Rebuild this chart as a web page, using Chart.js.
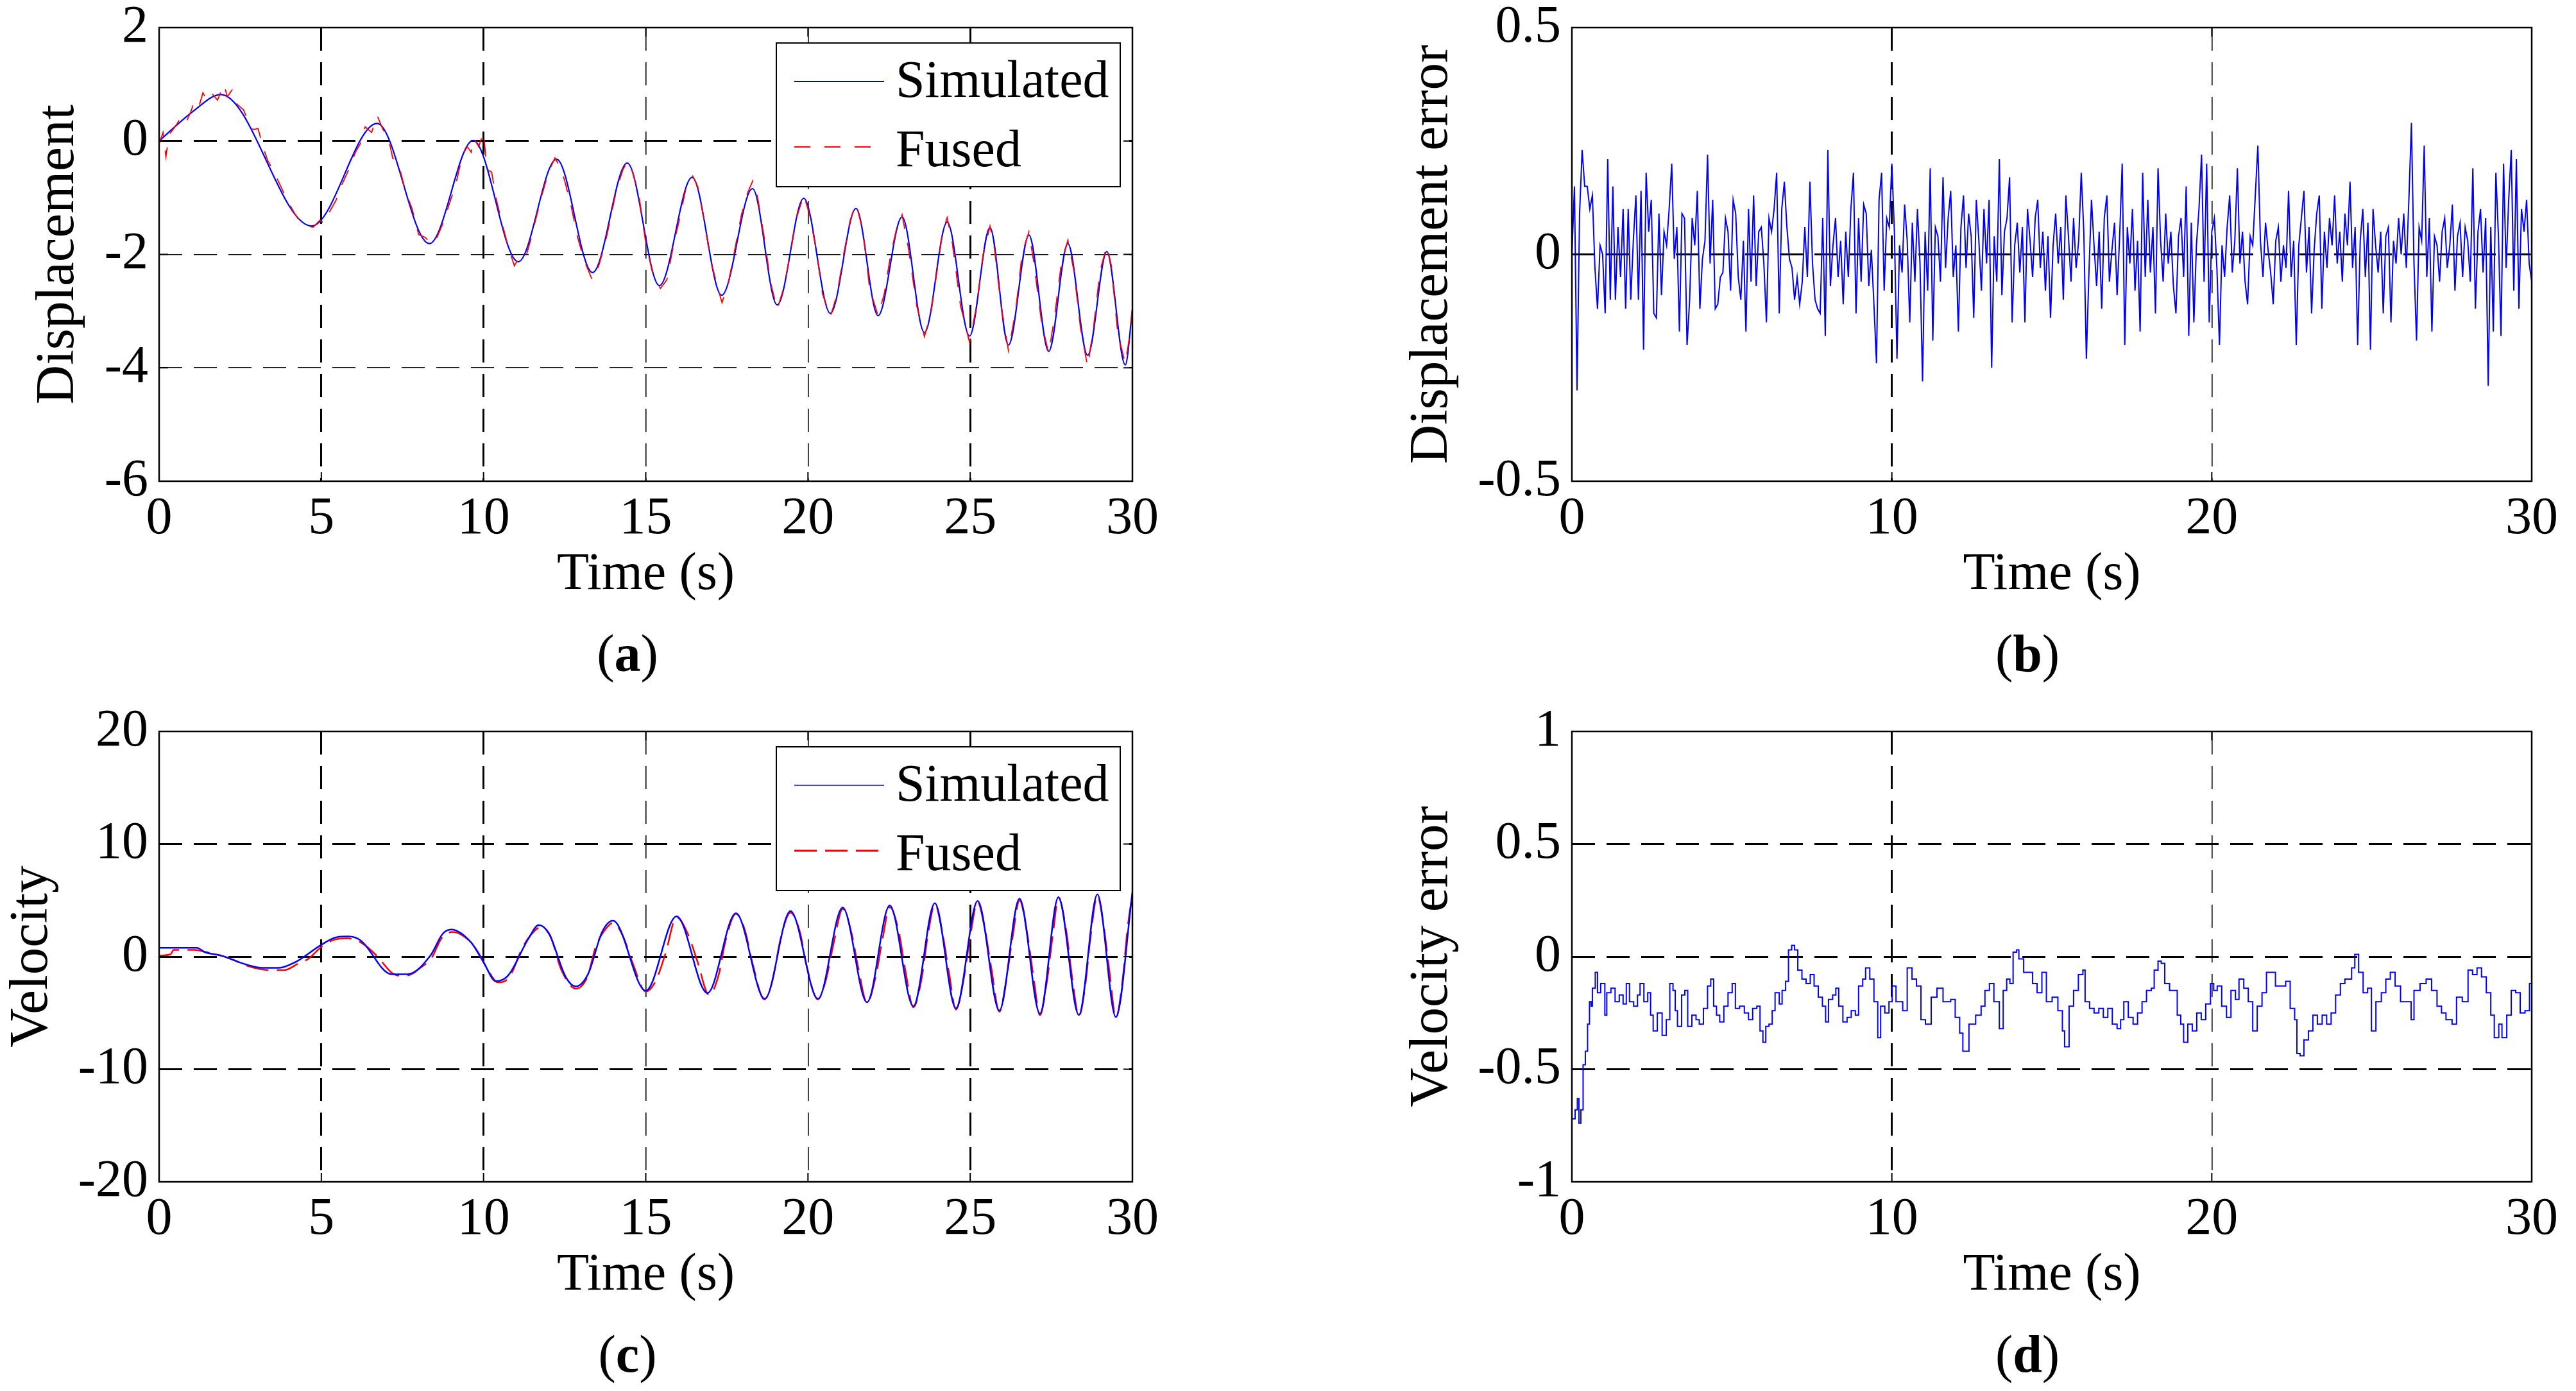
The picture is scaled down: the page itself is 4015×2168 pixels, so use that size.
<!DOCTYPE html>
<html>
<head>
<meta charset="utf-8">
<title>Simulated vs fused displacement and velocity</title>
<script src="https://cdn.jsdelivr.net/npm/chart.js@4.4.1/dist/chart.umd.min.js"></script>
<style>
  html, body { margin: 0; padding: 0; background: #fff; }
  body { width: 4015px; height: 2168px; position: relative; overflow: hidden;
         font-family: 'Liberation Serif', 'Times New Roman', serif; color: #000; }
  .panel { position: absolute; }
  .tag { position: absolute; width: 400px; text-align: center; font-size: 82px; line-height: 100px; }
</style>
</head>
<body>
<div class="panel" id="boxA"><canvas id="chartA"></canvas></div>
<div class="panel" id="boxB"><canvas id="chartB"></canvas></div>
<div class="panel" id="boxC"><canvas id="chartC"></canvas></div>
<div class="panel" id="boxD"><canvas id="chartD"></canvas></div>
<div class="tag" style="left:778px;top:969px">(<b>a</b>)</div>
<div class="tag" style="left:2960px;top:969px">(<b>b</b>)</div>
<div class="tag" style="left:778px;top:2061px">(<b>c</b>)</div>
<div class="tag" style="left:2960px;top:2061px">(<b>d</b>)</div>
<script>
// ---- tick values ----
const timeTicksFine = [0, 5, 10, 15, 20, 25, 30];
const timeTicksCoarse = [0, 10, 20, 30];
const dispTicks = [-6, -4, -2, 0, 2];
const dispErrTicks = [-0.5, 0, 0.5];
const velTicks = [-20, -10, 0, 10, 20];
const velErrTicks = [-1, -0.5, 0, 0.5, 1];

// ---- (a) displacement, [time, value] ----
const dispSim = [
  [0, 0], [1.04, 0.52], [1.9, 0.82], [4.7, -1.5], [6.72, 0.31], [8.33, -1.81], [9.68, 0.01],
  [11.07, -2.13], [12.25, -0.32], [13.36, -2.32], [14.43, -0.39], [15.42, -2.55], [16.43, -0.64],
  [17.34, -2.72], [18.29, -0.84], [19.05, -2.89], [19.87, -1.01], [20.69, -3.04], [21.48, -1.19],
  [22.16, -3.08], [22.9, -1.34], [23.59, -3.38], [24.29, -1.43], [24.98, -3.44], [25.61, -1.53],
  [26.18, -3.6], [26.81, -1.66], [27.42, -3.71], [28.01, -1.81], [28.62, -3.78], [29.21, -1.95],
  [29.78, -3.95], [30, -2.98]
];
const dispFused = [
  [0, -0.05], [0.12, 0.15], [0.21, -0.28], [0.3, 0.1], [0.55, 0.3], [0.7, 0.45], [0.85, 0.35], [1.0, 0.55],
  [1.1, 0.75], [1.25, 0.65], [1.35, 0.85], [1.5, 0.7], [1.65, 0.82], [1.8, 0.72], [2.0, 1.0], [2.1, 0.78],
  [2.25, 0.9], [2.4, 0.65], [2.6, 0.55], [2.75, 0.35], [2.9, 0.2], [3.05, 0.22], [3.2, -0.1], [3.35, -0.35],
  [3.5, -0.5], [3.75, -0.8], [3.95, -1.05], [4.2, -1.3], [4.35, -1.42], [4.55, -1.5], [4.75, -1.52],
  [4.95, -1.4], [5.1, -1.45], [5.25, -1.25], [5.45, -1.05], [5.65, -0.75], [5.85, -0.5], [6.05, -0.2],
  [6.2, -0.05], [6.35, 0.25], [6.55, 0.15], [6.72, 0.45], [6.9, 0.2], [7.05, 0.1], [7.2, -0.3], [7.4, -0.45],
  [7.6, -0.9], [7.8, -1.2], [8.0, -1.65], [8.2, -1.7], [8.4, -1.82], [8.55, -1.72], [8.75, -1.45], [8.95, -1.1],
  [9.15, -0.75], [9.35, -0.25], [9.5, -0.1], [9.62, -0.2], [9.7, 0.05], [9.85, -0.1], [10.0, 0.15],
  [10.1, -0.5], [10.25, -0.55], [10.4, -1.05], [10.55, -1.4], [10.75, -1.85], [10.95, -2.2], [11.1, -2.05],
  [11.3, -2.05], [11.45, -1.75], [11.6, -1.4], [11.8, -0.95], [12.0, -0.55], [12.2, -0.3], [12.35, -0.45],
  [12.5, -0.7], [12.7, -1.15], [12.9, -1.7], [13.1, -2.1], [13.35, -2.45], [13.55, -2.2], [13.75, -1.8],
  [13.9, -1.4], [14.1, -0.85], [14.3, -0.5], [14.45, -0.35], [14.6, -0.55], [14.8, -1.0], [15.0, -1.8],
  [15.2, -2.3], [15.45, -2.6], [15.65, -2.45], [15.85, -1.85], [16.05, -1.35], [16.25, -0.8], [16.45, -0.62],
  [16.6, -0.8], [16.8, -1.4], [17.0, -2.1], [17.2, -2.55], [17.35, -2.85], [17.55, -2.5], [17.75, -1.9],
  [17.95, -1.3], [18.15, -0.9], [18.3, -0.7], [18.45, -1.0], [18.65, -1.7], [18.85, -2.5], [19.05, -2.97],
  [19.25, -2.6], [19.45, -2.0], [19.65, -1.35], [19.87, -0.95], [20.05, -1.3], [20.25, -1.9], [20.45, -2.7],
  [20.69, -3.1], [20.9, -2.7], [21.1, -2.0], [21.3, -1.4], [21.48, -1.1], [21.7, -1.6], [21.9, -2.6],
  [22.16, -3.08], [22.35, -2.7], [22.55, -2.0], [22.75, -1.5], [22.9, -1.3], [23.1, -1.9], [23.35, -2.9],
  [23.59, -3.45], [23.8, -3.0], [24.0, -2.2], [24.15, -1.6], [24.29, -1.35], [24.45, -1.8], [24.7, -2.9],
  [24.98, -3.55], [25.2, -2.9], [25.4, -2.0], [25.61, -1.5], [25.75, -1.9], [25.95, -2.9], [26.18, -3.7],
  [26.4, -3.0], [26.6, -2.0], [26.81, -1.6], [26.95, -2.1], [27.2, -3.2], [27.42, -3.75], [27.6, -3.1],
  [27.8, -2.2], [28.01, -1.75], [28.2, -2.3], [28.4, -3.3], [28.62, -3.98], [28.8, -3.3], [29.0, -2.3],
  [29.21, -1.85], [29.35, -2.2], [29.55, -3.4], [29.78, -3.92], [29.9, -3.5], [30, -2.95]
];

// ---- (b) displacement error, one value every 0.08 s from 0 to 30 s ----
const DISP_ERR_STEP = 0.08;
const dispErr = [
  0.00, 0.15, -0.30, 0.09, 0.23, 0.15, 0.15, 0.10, 0.13, -0.03, -0.12, 0.02, 0.00, -0.13, 0.21, -0.10, 0.15, -0.10, 0.06, -0.05, 0.10, -0.12, 0.10, -0.10, 0.03,
  0.13, -0.10, 0.14, -0.21, 0.18, 0.05, 0.12, -0.13, -0.14, 0.09, -0.09, 0.05, 0.02, 0.10, 0.20, -0.01, 0.06, -0.17, 0.09, 0.08, -0.20, -0.10, 0.08, 0.02, 0.14,
  -0.12, -0.01, 0.03, 0.22, -0.02, 0.12, -0.12, -0.11, -0.05, -0.04, 0.08, 0.05, -0.08, 0.12, 0.09, -0.05, -0.10, 0.03, -0.17, 0.10, -0.06, 0.13, -0.07, 0.05, 0.06,
  -0.02, -0.15, 0.08, 0.05, 0.10, 0.18, -0.13, 0.10, 0.16, 0.06, -0.01, -0.03, -0.10, -0.05, -0.11, -0.06, 0.06, -0.05, 0.16, -0.02, -0.10, -0.12, -0.13, 0.08, -0.18,
  0.23, -0.07, 0.02, 0.08, -0.05, 0.03, -0.11, 0.05, -0.05, 0.10, 0.18, -0.13, 0.08, -0.06, 0.11, 0.09, -0.07, 0.01, -0.11, -0.24, 0.12, 0.18, -0.08, 0.08, 0.06,
  0.20, 0.05, -0.23, 0.02, -0.04, 0.11, 0.03, -0.15, 0.07, -0.06, 0.10, -0.02, -0.28, 0.05, -0.08, 0.19, -0.19, 0.06, 0.04, -0.06, 0.17, -0.03, 0.08, 0.14, -0.05,
  0.02, -0.17, 0.06, 0.13, -0.03, 0.09, 0.04, -0.14, 0.12, 0.03, -0.08, 0.10, -0.02, 0.12, -0.25, 0.04, -0.06, 0.21, -0.09, 0.05, 0.08, 0.17, -0.15, 0.02, 0.07,
  -0.04, 0.06, -0.15, 0.10, 0.03, -0.05, 0.08, 0.12, -0.03, 0.05, -0.08, 0.04, -0.14, 0.02, 0.09, -0.02, 0.06, -0.10, 0.13, 0.04, -0.06, 0.08, -0.03, 0.03, 0.18,
  0.05, -0.23, -0.04, 0.12, 0.02, -0.07, 0.05, -0.12, 0.08, 0.13, -0.06, 0.01, 0.07, -0.09, 0.04, 0.20, -0.20, 0.06, -0.02, 0.10, -0.08, 0.03, -0.17, 0.18, -0.05,
  0.12, -0.04, 0.06, -0.13, 0.19, 0.03, -0.06, 0.09, -0.02, 0.05, -0.07, -0.13, 0.04, 0.08, -0.05, 0.15, -0.18, 0.07, -0.15, 0.02, 0.10, 0.22, -0.06, 0.20, -0.15,
  0.05, 0.08, -0.03, -0.20, 0.02, -0.05, 0.06, 0.13, -0.04, 0.03, 0.19, -0.02, 0.05, -0.06, -0.11, 0.04, 0.02, 0.13, 0.24, 0.03, -0.05, 0.07, 0.01, -0.04, -0.11,
  0.03, 0.06, -0.06, 0.02, -0.03, 0.14, -0.05, 0.03, -0.20, 0.02, 0.08, 0.14, -0.04, 0.06, -0.13, 0.01, 0.09, 0.13, -0.12, 0.05, -0.03, 0.08, 0.02, 0.13, -0.02,
  0.05, -0.06, 0.09, 0.02, 0.16, -0.03, 0.06, -0.20, 0.03, 0.10, -0.05, 0.07, -0.21, 0.10, 0.02, -0.04, 0.05, -0.13, 0.04, 0.06, -0.15, 0.03, -0.02, 0.08, 0.00,
  0.09, -0.03, 0.12, 0.29, -0.02, -0.19, 0.06, 0.03, 0.24, -0.05, 0.08, -0.17, 0.04, 0.02, -0.06, 0.05, 0.08, -0.03, 0.02, 0.11, -0.08, 0.04, 0.07, -0.05, 0.06,
  0.03, -0.06, 0.19, -0.12, 0.05, 0.10, -0.04, 0.08, -0.29, 0.06, -0.17, 0.18, 0.04, -0.18, 0.20, -0.03, 0.12, 0.23, -0.08, 0.21, -0.12, 0.10, 0.05, 0.12, -0.02,
  -0.06
];

// ---- (c) velocity ----
const velSim = [
  [0, 0.78], [1.16, 0.78], [1.41, 0.4], [1.92, 0.08], [2.68, -0.7], [3.18, -1.0], [3.69, -1.0], [4.19, -0.5],
  [5.0, 1.05], [5.45, 1.71], [5.83, 1.79], [6.21, 1.44], [7.16, -1.56], [7.66, -1.56], [8.36, 0.08], [8.74, 2.02],
  [9.0, 2.41], [9.62, 1.25], [10.0, -0.5], [10.38, -2.18], [10.76, -1.67], [11.39, 1.63], [11.7, 2.8], [12.02, 2.02],
  [12.53, -1.79], [12.84, -2.65], [13.22, -1.56], [13.66, 2.22], [13.99, 3.19], [15.0, -3.03], [15.95, 3.58],
  [16.9, -3.23], [17.78, 3.85], [18.67, -3.74], [19.46, 4.05], [20.31, -3.74], [21.07, 4.36], [21.82, -4.05],
  [22.52, 4.55], [23.25, -4.4], [23.91, 4.75], [24.56, -4.59], [25.23, 4.94], [25.9, -4.79], [26.52, 5.14],
  [27.15, -5.06], [27.72, 5.29], [28.35, -5.18], [28.92, 5.53], [29.49, -5.37], [30, 5.7]
];
const velFused = [
  [0, 0.1], [0.35, 0.2], [0.45, 0.6], [1.1, 0.6], [1.3, 0.5], [1.6, 0.3], [1.9, 0.1], [2.3, -0.3], [2.7, -0.8],
  [3.1, -1.1], [3.4, -1.2], [3.85, -1.2], [4.3, -0.6], [4.6, -0.2], [5.0, 0.85], [5.4, 1.5], [5.8, 1.62],
  [6.25, 1.2], [6.7, 0.1], [7.2, -1.5], [7.45, -1.7], [7.75, -1.6], [8.0, -1.1], [8.4, -0.1], [8.7, 1.6],
  [9.05, 2.2], [9.6, 1.3], [9.85, 0.3], [10.1, -1.0], [10.45, -2.3], [10.8, -1.8], [11.2, 0.8], [11.45, 1.9],
  [11.75, 2.6], [12.05, 1.9], [12.4, -1.2], [12.85, -2.85], [13.2, -1.8], [13.45, 0.8], [13.7, 2.2], [14.0, 3.0],
  [14.3, 1.8], [14.6, -0.6], [15.0, -3.1], [15.3, -2.2], [15.6, 0.2], [15.95, 3.5], [16.3, 2.0], [16.6, -0.5],
  [16.95, -3.4], [17.25, -1.6], [17.45, 1.3], [17.78, 3.8], [18.05, 2.4], [18.3, -0.7], [18.65, -3.8],
  [18.9, -2.2], [19.15, 1.5], [19.46, 3.9], [19.75, 2.2], [19.95, -0.7], [20.3, -3.8], [20.55, -2.1], [20.8, 1.3],
  [21.07, 4.25], [21.35, 2.0], [21.55, -1.0], [21.82, -4.1], [22.1, -1.6], [22.3, 1.6], [22.52, 4.4], [22.8, 2.2],
  [23.0, -1.2], [23.25, -4.5], [23.5, -2.0], [23.7, 2.0], [23.91, 4.65], [24.15, 2.0], [24.35, -1.5],
  [24.56, -4.7], [24.8, -2.0], [25.0, 1.8], [25.23, 4.85], [25.45, 2.5], [25.65, -1.0], [25.9, -4.9],
  [26.1, -2.3], [26.3, 1.6], [26.52, 5.0], [26.75, 2.2], [26.95, -1.8], [27.15, -5.2], [27.35, -2.5],
  [27.55, 2.0], [27.72, 5.2], [27.95, 2.5], [28.15, -2.0], [28.35, -5.3], [28.55, -2.5], [28.7, 1.5],
  [28.92, 5.4], [29.1, 3.0], [29.3, -1.5], [29.49, -5.45], [29.7, -2.0], [29.85, 2.5], [30, 5.6]
];

// ---- (d) velocity error ----
const velErr = [
  [0, -0.72], [0.1, -0.68], [0.17, -0.63], [0.22, -0.74], [0.28, -0.68], [0.35, -0.48], [0.42, -0.42], [0.49, -0.30],
  [0.55, -0.20], [0.6, -0.22], [0.64, -0.14], [0.73, -0.07], [0.8, -0.16], [0.9, -0.12], [1.03, -0.26], [1.09, -0.16],
  [1.22, -0.14], [1.35, -0.20], [1.48, -0.17], [1.6, -0.21], [1.7, -0.12], [1.8, -0.20], [1.93, -0.22], [2.05, -0.17],
  [2.13, -0.12], [2.25, -0.20], [2.37, -0.16], [2.46, -0.26], [2.54, -0.33], [2.67, -0.25], [2.82, -0.35], [2.95, -0.28],
  [3.06, -0.12], [3.16, -0.15], [3.23, -0.24], [3.3, -0.31], [3.43, -0.17], [3.53, -0.15], [3.62, -0.31], [3.75, -0.26],
  [3.88, -0.28], [3.98, -0.30], [4.11, -0.23], [4.24, -0.13], [4.34, -0.10], [4.43, -0.22], [4.52, -0.26], [4.62, -0.29],
  [4.75, -0.22], [4.88, -0.16], [5.01, -0.12], [5.11, -0.23], [5.24, -0.22], [5.39, -0.25], [5.52, -0.28], [5.65, -0.23],
  [5.78, -0.22], [5.88, -0.33], [5.97, -0.38], [6.06, -0.31], [6.16, -0.30], [6.26, -0.24], [6.35, -0.16], [6.48, -0.21],
  [6.57, -0.15], [6.68, -0.11], [6.77, 0.03], [6.87, 0.05], [6.96, 0.03], [7.06, -0.06], [7.19, -0.10], [7.32, -0.12],
  [7.45, -0.08], [7.57, -0.13], [7.7, -0.18], [7.83, -0.22], [7.93, -0.29], [8.02, -0.19], [8.15, -0.17], [8.25, -0.14],
  [8.34, -0.22], [8.47, -0.29], [8.6, -0.27], [8.73, -0.24], [8.86, -0.26], [8.96, -0.13], [9.09, -0.10], [9.18, -0.05],
  [9.31, -0.10], [9.44, -0.20], [9.56, -0.36], [9.65, -0.22], [9.78, -0.25], [9.91, -0.20], [10.01, -0.13],
  [10.13, -0.20], [10.34, -0.24], [10.48, -0.05], [10.63, -0.10], [10.77, -0.13], [10.91, -0.28], [11.05, -0.30],
  [11.23, -0.18], [11.41, -0.14], [11.6, -0.20], [11.84, -0.19], [11.98, -0.27], [12.12, -0.34], [12.22, -0.42],
  [12.41, -0.30], [12.62, -0.26], [12.79, -0.22], [12.91, -0.15], [13.05, -0.12], [13.19, -0.20], [13.36, -0.32],
  [13.48, -0.15], [13.59, -0.10], [13.69, -0.12], [13.79, 0.02], [13.9, 0.03], [13.97, -0.01], [14.12, -0.07],
  [14.26, -0.07], [14.4, -0.12], [14.54, -0.16], [14.69, -0.07], [14.83, -0.20], [15.01, -0.18], [15.19, -0.24],
  [15.33, -0.33], [15.4, -0.40], [15.54, -0.22], [15.68, -0.15], [15.83, -0.08], [15.97, -0.06], [16.04, -0.20],
  [16.18, -0.23], [16.32, -0.25], [16.47, -0.23], [16.61, -0.27], [16.75, -0.23], [16.89, -0.30], [17.04, -0.32],
  [17.15, -0.28], [17.25, -0.20], [17.39, -0.27], [17.54, -0.30], [17.68, -0.25], [17.82, -0.20], [17.96, -0.15],
  [18.11, -0.14], [18.2, -0.06], [18.32, -0.02], [18.42, -0.03], [18.53, -0.12], [18.68, -0.15], [18.86, -0.15],
  [18.92, -0.26], [19.03, -0.30], [19.12, -0.38], [19.25, -0.30], [19.39, -0.33], [19.53, -0.25], [19.67, -0.28],
  [19.81, -0.21], [19.96, -0.12], [20.06, -0.15], [20.17, -0.13], [20.31, -0.22], [20.46, -0.27], [20.6, -0.15],
  [20.74, -0.19], [20.85, -0.10], [21.0, -0.14], [21.14, -0.20], [21.28, -0.33], [21.42, -0.22], [21.57, -0.16],
  [21.71, -0.07], [21.85, -0.07], [21.99, -0.13], [22.14, -0.13], [22.31, -0.11], [22.45, -0.23], [22.59, -0.28],
  [22.66, -0.43], [22.76, -0.44], [22.88, -0.37], [23.02, -0.33], [23.16, -0.26], [23.3, -0.30], [23.45, -0.26],
  [23.59, -0.30], [23.73, -0.25], [23.87, -0.17], [24.02, -0.12], [24.16, -0.10], [24.3, -0.10], [24.37, -0.05],
  [24.47, 0.01], [24.59, -0.07], [24.73, -0.16], [24.87, -0.14], [24.99, -0.33], [25.13, -0.20], [25.3, -0.16],
  [25.44, -0.10], [25.58, -0.07], [25.73, -0.13], [25.9, -0.20], [26.08, -0.20], [26.23, -0.28], [26.32, -0.15],
  [26.51, -0.12], [26.7, -0.10], [26.87, -0.15], [27.04, -0.22], [27.18, -0.25], [27.32, -0.28], [27.51, -0.30],
  [27.65, -0.18], [27.83, -0.20], [28.01, -0.06], [28.15, -0.08], [28.29, -0.05], [28.43, -0.09], [28.58, -0.16],
  [28.72, -0.26], [28.83, -0.36], [28.97, -0.30], [29.07, -0.36], [29.22, -0.26], [29.36, -0.15], [29.5, -0.16],
  [29.64, -0.25], [29.79, -0.24], [29.93, -0.12], [30, -0.15]
];

// ---- layout of the four plot boxes (page pixels) ----
const PAD_TOP = 60, PAD_RIGHT = 80, X_AXIS_H = 200;
const BLUE = '#0000ff', RED = '#ff0000';
const FONT = "'Liberation Serif', 'Times New Roman', serif";

Chart.defaults.font.family = FONT;
Chart.defaults.color = '#000';

function toPoints(pairs) {
  return pairs.map(p => ({ x: p[0], y: p[1] }));
}

function placePanel(id, plot, yAxisW) {
  const el = document.getElementById(id);
  el.style.left = (plot.left - yAxisW) + 'px';
  el.style.top = (plot.top - PAD_TOP) + 'px';
  el.style.width = (plot.right - plot.left + yAxisW + PAD_RIGHT) + 'px';
  el.style.height = (plot.bottom - plot.top + PAD_TOP + X_AXIS_H) + 'px';
}

function gridOpts(tickVals, thick) {
  const lo = tickVals[0], hi = tickVals[tickVals.length - 1];
  return {
    drawTicks: false,
    color: c => (c.tick && (c.tick.value === lo || c.tick.value === hi)) ? 'rgba(0,0,0,0)' : '#000',
    lineWidth: c => (c.tick && thick.includes(c.tick.value)) ? 3 : 1.6
  };
}

function xAxis(tickVals, thick) {
  return {
    type: 'linear', min: 0, max: 30,
    afterBuildTicks: s => { s.ticks = tickVals.map(v => ({ value: v })); },
    afterFit: s => { s.height = X_AXIS_H; s.paddingLeft = 0; s.paddingRight = 0; },
    grid: gridOpts(tickVals, thick),
    border: { display: false, dash: [36, 18] },
    ticks: { autoSkip: false, maxRotation: 0, padding: 10, color: '#000', font: { size: 82 }, callback: v => String(v) },
    title: { display: true, text: 'Time (s)', color: '#000', font: { size: 82 }, padding: { top: 0, bottom: 4 } }
  };
}

function yAxis(tickVals, thick, label, axisW, titlePad) {
  return {
    type: 'linear', min: tickVals[0], max: tickVals[tickVals.length - 1],
    afterBuildTicks: s => { s.ticks = tickVals.map(v => ({ value: v })); },
    afterFit: s => { s.width = axisW; s.paddingTop = 0; s.paddingBottom = 0; },
    grid: gridOpts(tickVals, thick),
    border: { display: false, dash: [36, 18] },
    ticks: { autoSkip: false, padding: 17, color: '#000', font: { size: 82 }, callback: v => String(v) },
    title: { display: true, text: label, color: '#000', font: { size: 85 }, padding: { top: titlePad, bottom: 0 } }
  };
}

// solid box round the plot area with small inward ticks, like the original
const framePlugin = {
  id: 'frame',
  afterDatasetsDraw(chart) {
    const { ctx, chartArea: a, scales } = chart;
    const TICK = 14;
    ctx.save();
    ctx.setLineDash([]);
    ctx.strokeStyle = '#000';
    ctx.lineWidth = 2;
    ctx.beginPath();
    scales.x.ticks.forEach(t => {
      const px = scales.x.getPixelForValue(t.value);
      ctx.moveTo(px, a.bottom); ctx.lineTo(px, a.bottom - TICK);
      ctx.moveTo(px, a.top); ctx.lineTo(px, a.top + TICK);
    });
    scales.y.ticks.forEach(t => {
      const py = scales.y.getPixelForValue(t.value);
      ctx.moveTo(a.left, py); ctx.lineTo(a.left + TICK, py);
      ctx.moveTo(a.right, py); ctx.lineTo(a.right - TICK, py);
    });
    ctx.stroke();
    ctx.lineWidth = 2.5;
    ctx.strokeRect(a.left, a.top, a.right - a.left, a.bottom - a.top);
    ctx.restore();
  }
};

// boxed legend in the upper right corner of the plot
const boxLegendPlugin = {
  id: 'boxLegend',
  afterDraw(chart, args, opts) {
    if (!opts || !opts.items) return;
    const { ctx, chartArea: a } = chart;
    const x0 = a.right - opts.right - opts.width;
    const y0 = a.top + opts.top;
    ctx.save();
    ctx.fillStyle = '#fff';
    ctx.fillRect(x0, y0, opts.width, opts.height);
    ctx.setLineDash([]);
    ctx.strokeStyle = '#000';
    ctx.lineWidth = 2;
    ctx.strokeRect(x0, y0, opts.width, opts.height);
    opts.items.forEach(item => {
      const ds = chart.data.datasets[item.dataset];
      ctx.strokeStyle = ds.borderColor;
      ctx.lineWidth = item.width || ds.borderWidth;
      ctx.setLineDash(ds.borderDash || []);
      ctx.beginPath();
      ctx.moveTo(x0 + 28, y0 + item.y);
      ctx.lineTo(x0 + 168, y0 + item.y);
      ctx.stroke();
      ctx.setLineDash([]);
      ctx.fillStyle = '#000';
      ctx.font = '82px ' + FONT;
      ctx.textBaseline = 'middle';
      ctx.textAlign = 'left';
      ctx.fillText(ds.label, x0 + 186, y0 + item.ty);
    });
    ctx.restore();
  }
};

function makeChart(canvasId, datasets, scales, legend) {
  return new Chart(document.getElementById(canvasId), {
    type: 'line',
    data: { datasets: datasets },
    options: {
      responsive: true,
      maintainAspectRatio: false,
      animation: false,
      events: [],
      elements: { point: { radius: 0 } },
      layout: { padding: { top: PAD_TOP, right: PAD_RIGHT, left: 0, bottom: 0 } },
      plugins: {
        legend: { display: false },
        tooltip: { enabled: false },
        boxLegend: legend || {}
      },
      scales: scales
    },
    plugins: [framePlugin, boxLegendPlugin]
  });
}

const legendA = {
  right: 19, top: 24, width: 536, height: 224,
  items: [{ dataset: 0, y: 60, ty: 62 }, { dataset: 1, y: 162, ty: 170 }]
};
const legendC = {
  right: 19, top: 24, width: 536, height: 224,
  items: [{ dataset: 0, y: 60, ty: 62, width: 1.6 }, { dataset: 1, y: 162, ty: 170, width: 3 }]
};

const PLOT_A = { left: 248, right: 1765, top: 43, bottom: 750 };
const PLOT_B = { left: 2450, right: 3946, top: 43, bottom: 750 };
const PLOT_C = { left: 248, right: 1765, top: 1140, bottom: 1842 };
const PLOT_D = { left: 2450, right: 3946, top: 1140, bottom: 1842 };

placePanel('boxA', PLOT_A, 248);
placePanel('boxB', PLOT_B, 350);
placePanel('boxC', PLOT_C, 248);
placePanel('boxD', PLOT_D, 350);

// (a) displacement
makeChart('chartA', [
  { label: 'Simulated', data: toPoints(dispSim), borderColor: BLUE, borderWidth: 2.2,
    cubicInterpolationMode: 'monotone', order: 2 },
  { label: 'Fused', data: toPoints(dispFused), borderColor: RED, borderWidth: 1.8,
    borderDash: [25, 22], tension: 0, order: 1 }
], {
  x: xAxis(timeTicksFine, [5, 10, 25]),
  y: yAxis(dispTicks, [0], 'Displacement', 248, 41)
}, legendA);

// (b) displacement error
makeChart('chartB', [
  { label: 'Displacement error', data: dispErr.map((v, i) => ({ x: i * DISP_ERR_STEP, y: v })),
    borderColor: BLUE, borderWidth: 2, tension: 0 }
], {
  x: xAxis(timeTicksCoarse, [10]),
  y: yAxis(dispErrTicks, [0], 'Displacement error', 350, 82)
});

// (c) velocity: simulated drawn over the fused curve
makeChart('chartC', [
  { label: 'Simulated', data: toPoints(velSim), borderColor: BLUE, borderWidth: 2.5,
    cubicInterpolationMode: 'monotone', order: 1 },
  { label: 'Fused', data: toPoints(velFused), borderColor: RED, borderWidth: 2.5,
    borderDash: [35, 13], cubicInterpolationMode: 'monotone', order: 2 }
], {
  x: xAxis(timeTicksFine, [5, 10, 25]),
  y: yAxis(velTicks, [10, 0, -10], 'Velocity', 248, 0)
}, legendC);

// (d) velocity error
makeChart('chartD', [
  { label: 'Velocity error', data: toPoints(velErr), borderColor: BLUE, borderWidth: 2,
    stepped: 'before' }
], {
  x: xAxis(timeTicksCoarse, [10]),
  y: yAxis(velErrTicks, [0.5, 0, -0.5], 'Velocity error', 350, 82)
});
</script>
</body>
</html>
